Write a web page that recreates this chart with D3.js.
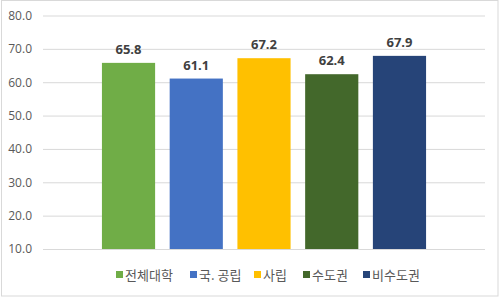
<!DOCTYPE html>
<html>
<head>
<meta charset="utf-8">
<script src="https://cdn.jsdelivr.net/npm/d3@7"></script>
<style>
  body { margin: 0; background: #fff; }
  text { font-family: "Noto Sans CJK KR", "Noto Sans", sans-serif; }
</style>
</head>
<body>
<div id="chart"></div>
<script>
// series (one category, five series)
const series = ["전체대학", "국. 공립", "사립", "수도권", "비수도권"];
const values = [65.8, 61.1, 67.2, 62.4, 67.9];
const colors = ["#70AD47", "#4472C4", "#FFC000", "#43682B", "#264478"];
const yTicks = [10, 20, 30, 40, 50, 60, 70, 80];

const W = 500, H = 300;
const plot = {left: 43, right: 485, top: 15.5, bottom: 249};

const svg = d3.select("#chart").append("svg")
    .attr("width", W).attr("height", H);

// outer frame
svg.append("rect")
    .attr("x", 1.5).attr("y", 0.5)
    .attr("width", 496.5).attr("height", 295.5)
    .attr("fill", "#fff").attr("stroke", "#d9d9d9");

const y = d3.scaleLinear().domain([10, 80]).range([plot.bottom, plot.top]);
const x = d3.scaleBand().domain(series)
    .range([plot.left, plot.right])
    .paddingInner(0.215).paddingOuter(0.87);

// grid + tick labels
const yAxis = svg.append("g")
    .attr("transform", `translate(${plot.left},0)`)
    .call(d3.axisLeft(y).tickValues(yTicks).tickSize(-(plot.right - plot.left))
        .tickPadding(11).tickFormat(d3.format(".1f")));
yAxis.select(".domain").remove();
yAxis.selectAll("line").attr("stroke", "#d9d9d9");
yAxis.selectAll("text")
    .attr("fill", "#595959")
    .style("font-size", "12px")
    .style("font-family", "'Open Sans', 'Noto Sans', sans-serif");

// bars
svg.append("g").selectAll("rect")
    .data(values)
    .join("rect")
    .attr("x", (d, i) => x(series[i]))
    .attr("y", d => y(d))
    .attr("width", x.bandwidth())
    .attr("height", d => y(10) - y(d))
    .attr("fill", (d, i) => colors[i]);

// value labels
svg.append("g").selectAll("text")
    .data(values)
    .join("text")
    .attr("x", (d, i) => x(series[i]) + x.bandwidth() / 2)
    .attr("y", d => y(d) - 9)
    .attr("text-anchor", "middle")
    .attr("fill", "#404040")
    .style("font-size", "13px")
    .style("font-weight", "bold")
    .style("font-family", "'Open Sans', 'Noto Sans', sans-serif")
    .text(d => d.toFixed(1));

// legend
const legendX = [116, 190, 254, 303, 363];
const legend = svg.append("g").selectAll("g")
    .data(series)
    .join("g")
    .attr("transform", (d, i) => `translate(${legendX[i]},275)`);
legend.append("rect")
    .attr("x", 0).attr("y", -4)
    .attr("width", 7).attr("height", 7)
    .attr("fill", (d, i) => colors[i]);
legend.append("text")
    .attr("x", 9).attr("y", 5)
    .attr("fill", "#595959")
    .style("font-size", "13px")
    .text(d => d);
</script>
</body>
</html>
